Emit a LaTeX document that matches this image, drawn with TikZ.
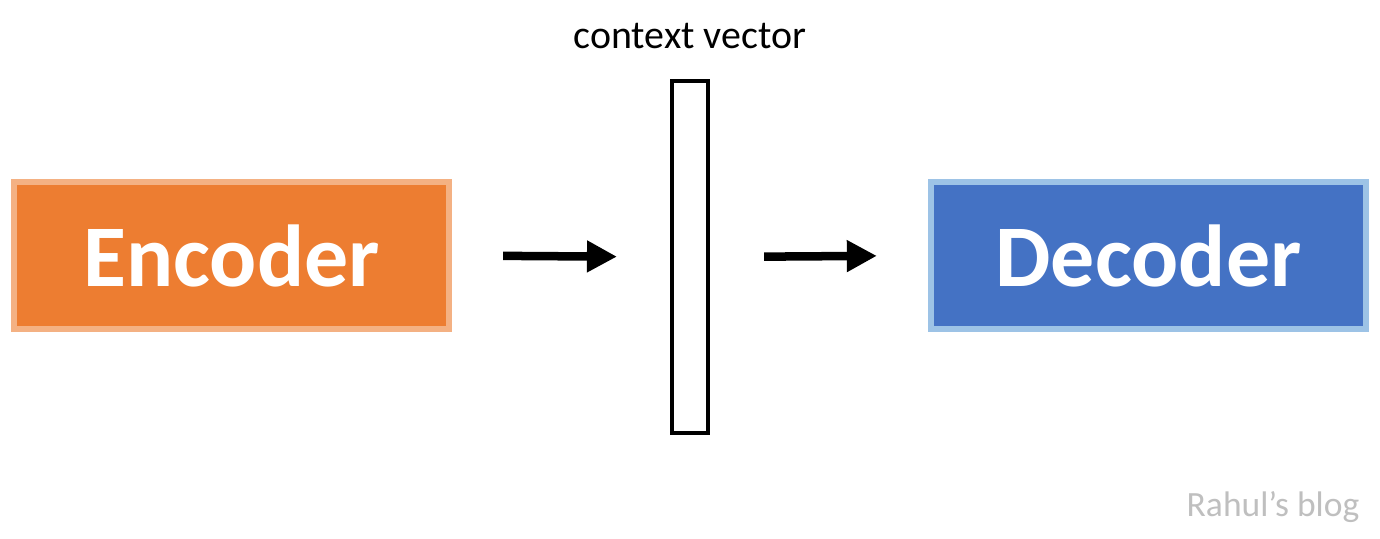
\documentclass[tikz,border=0pt]{standalone}
\usepackage{fontspec}
\setmainfont{Carlito}
\usetikzlibrary{arrows.meta}
\definecolor{encfill}{HTML}{ED7D31}
\definecolor{encline}{HTML}{F4B183}
\definecolor{decfill}{HTML}{4472C4}
\definecolor{decline}{HTML}{9DC3E6}
\definecolor{blog}{HTML}{BFBFBF}
\begin{document}
\begin{tikzpicture}[x=0.01cm, y=-0.01cm]
	\tikzstyle{block} = [rectangle,minimum width=4.35cm,minimum height=1.47cm,line width=0.06cm,text=white,font=\fontsize{25}{25}\selectfont\bfseries]
	\tikzstyle{arr} = [line width=0.085cm,-{Triangle[length=0.3cm,width=0.3cm]}]
	\useasboundingbox (0,0) rectangle (1380,538);
	\node[block,fill=encfill,draw=encline](Encoder)at(231.5,255.5){Encoder};
	\node[rectangle,draw,line width=0.04cm,minimum width=0.36cm,minimum height=3.52cm](ctx)at(690,257){};
	\node[block,fill=decfill,draw=decline](Decoder)at(1148.5,255.5){Decoder};
	\node[font=\fontsize{11.35}{11.35}\selectfont](cv)at(690,36){context vector};
	\node[text=blog,font=\fontsize{10.1}{10.1}\selectfont](blog)at(1273,507){Rahul’s blog};
	\path[arr] (Encoder.east) edge[shorten <=0.51cm,shorten >=0.53cm] (ctx.west)
	(ctx.east) edge[shorten <=0.54cm,shorten >=0.51cm] (Decoder.west);
\end{tikzpicture}
\end{document}
